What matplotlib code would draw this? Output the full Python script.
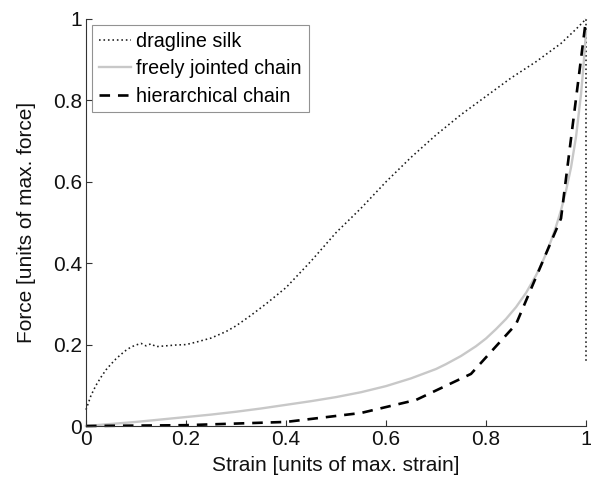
import matplotlib
matplotlib.use("Agg")
import matplotlib.pyplot as plt

plt.rcParams['font.family'] = ['Liberation Sans', 'DejaVu Sans']

# dragline silk (dotted)
silk_x = [0, 0.01, 0.02, 0.03, 0.04, 0.05, 0.06, 0.07, 0.08, 0.09, 0.10, 0.11,
          0.12, 0.13, 0.14, 0.16, 0.18, 0.20, 0.22, 0.25, 0.28, 0.30, 0.33,
          0.36, 0.40, 0.45, 0.50, 0.55, 0.60, 0.65, 0.70, 0.75, 0.80, 0.85,
          0.90, 0.95, 0.98, 1.0, 1.0]
silk_y = [0.04, 0.075, 0.10, 0.12, 0.138, 0.152, 0.165, 0.176, 0.186, 0.194,
          0.199, 0.203, 0.197, 0.202, 0.195, 0.197, 0.199, 0.200, 0.206, 0.216,
          0.232, 0.246, 0.272, 0.30, 0.34, 0.405, 0.475, 0.535, 0.60, 0.66,
          0.715, 0.765, 0.81, 0.855, 0.895, 0.94, 0.975, 1.0, 0.16]

# freely jointed chain (grey)
fjc_x = [0, 0.05, 0.1, 0.15, 0.2, 0.25, 0.3, 0.35, 0.4, 0.45, 0.5, 0.55, 0.6,
         0.65, 0.7, 0.72, 0.75, 0.78, 0.8, 0.82, 0.84, 0.86, 0.88, 0.9,
         0.91, 0.92, 0.93, 0.94, 0.95, 0.96, 0.97, 0.98, 0.99, 0.995, 1.0]
fjc_y = [0, 0.005, 0.01, 0.016, 0.022, 0.028, 0.035, 0.043, 0.052, 0.061,
         0.071, 0.083, 0.098, 0.117, 0.14, 0.152, 0.172, 0.196, 0.215, 0.238,
         0.263, 0.292, 0.327, 0.37, 0.395, 0.423, 0.455, 0.49, 0.53, 0.578,
         0.635, 0.71, 0.815, 0.885, 0.97]

# hierarchical chain (dashed)
hc_x = [0, 0.2, 0.4, 0.55, 0.66, 0.77, 0.86, 0.95, 1.0]
hc_y = [0, 0.002, 0.01, 0.032, 0.064, 0.128, 0.25, 0.51, 1.0]

xticks = [0, 0.2, 0.4, 0.6, 0.8, 1]
xticklabels = ['0', '0.2', '0.4', '0.6', '0.8', '1']
yticks = [0, 0.2, 0.4, 0.6, 0.8, 1]
yticklabels = ['0', '0.2', '0.4', '0.6', '0.8', '1']

fig = plt.figure(figsize=(5.91, 4.83), dpi=100)
ax = fig.add_axes([86/591, 1-426/483, (586-86)/591, (426-19)/483])

ax.plot(silk_x, silk_y, linestyle=(0, (1, 1.8)), color='#1a1a1a', lw=1.15,
        label='dragline silk', clip_on=False)
ax.plot(fjc_x, fjc_y, color='#c8c8c8', lw=1.7, label='freely jointed chain',
        clip_on=False)
ax.plot(hc_x, hc_y, color='black', lw=1.9, linestyle=(0, (4, 3)),
        label='hierarchical chain', clip_on=False)

ax.set_xlim(0, 1)
ax.set_ylim(0, 1)
ax.set_xticks(xticks)
ax.set_xticklabels(xticklabels)
ax.set_yticks(yticks)
ax.set_yticklabels(yticklabels)
ax.spines['top'].set_visible(False)
ax.spines['right'].set_visible(False)
for s in ('left', 'bottom'):
    ax.spines[s].set_linewidth(0.8)
    ax.spines[s].set_color('#333333')
ax.tick_params(direction='in', length=4, width=0.8, labelsize=15,
               colors='#333333', labelcolor='#111111', pad=3)

ax.set_xlabel('Strain [units of max. strain]', fontsize=15, labelpad=5,
              color='#111111')
ax.set_ylabel('Force [units of max. force]', fontsize=15, labelpad=12,
              color='#111111')

leg = ax.legend(loc='upper left', bbox_to_anchor=(0.012, 0.985), fontsize=14.2,
                frameon=True, fancybox=False, handlelength=1.65,
                handletextpad=0.25, borderpad=0.35, labelspacing=0.42,
                borderaxespad=0)
leg.get_frame().set_edgecolor('#777777')
leg.get_frame().set_linewidth(0.8)

fig.savefig('out.png', dpi=100)
